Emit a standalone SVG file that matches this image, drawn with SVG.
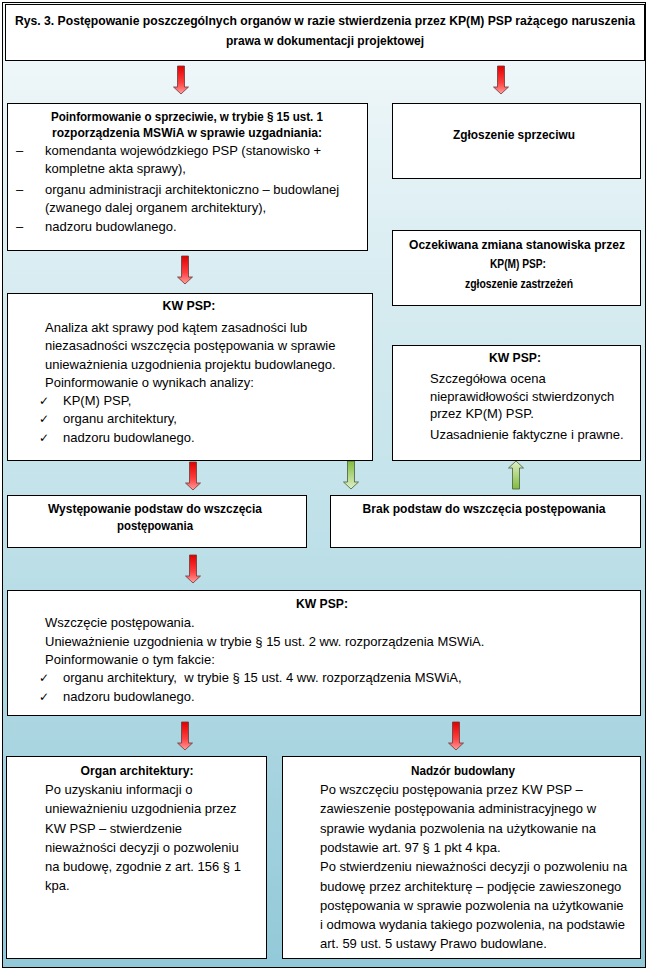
<svg xmlns="http://www.w3.org/2000/svg" width="651" height="977" viewBox="0 0 651 977">
<defs>
<linearGradient id="bg" x1="0" y1="0" x2="0" y2="1">
<stop offset="0" stop-color="#f4f9fb"/>
<stop offset="0.5" stop-color="#c4e3ea"/>
<stop offset="1" stop-color="#92c9d8"/>
</linearGradient>
<linearGradient id="gRed" x1="0" y1="0" x2="0" y2="1">
<stop offset="0" stop-color="#e00000"/>
<stop offset="0.6" stop-color="#ff4040"/>
<stop offset="1" stop-color="#ffa0a0"/>
</linearGradient>
<linearGradient id="gGreen" x1="0" y1="0" x2="0" y2="1">
<stop offset="0" stop-color="#80bc3c"/>
<stop offset="1" stop-color="#dff0c8"/>
</linearGradient>
<path id="arrR" d="M-3.5,0 H3.5 V21 H7.5 L0,28 L-7.5,21 H-3.5 Z" fill="url(#gRed)" stroke="#6a3a3a" stroke-width="0.8"/>
<path id="arrG" d="M-3.5,0 H3.5 V21 H7.5 L0,28 L-7.5,21 H-3.5 Z" fill="url(#gGreen)" stroke="#4a5a3a" stroke-width="0.8"/>
</defs>
<style>
.box{fill:#fff;stroke:#000;stroke-width:1}
.h{font-family:"Liberation Sans",Arial,sans-serif;font-weight:bold;font-size:13px;fill:#000;text-anchor:middle}
.ti{font-size:12.2px}
.t{font-family:"Liberation Sans",Arial,sans-serif;font-size:13px;fill:#000}
.ck{font-family:"DejaVu Sans",sans-serif;font-size:12px;fill:#000}
</style>
<rect x="2.5" y="2.5" width="643" height="965" fill="url(#bg)" stroke="#000" stroke-width="1"/>

<g id="title">
<rect class="box" x="5.5" y="4.5" width="639" height="56"/>
<text class="h ti" x="325" y="25" textLength="620" lengthAdjust="spacingAndGlyphs">Rys. 3. Postępowanie poszczególnych organów w razie stwierdzenia przez KP(M) PSP rażącego naruszenia</text>
<text class="h ti" x="325" y="45" textLength="198" lengthAdjust="spacingAndGlyphs">prawa w dokumentacji projektowej</text>
</g>

<g id="connectors">
<use href="#arrR" x="181" y="66"/>
<use href="#arrR" x="501" y="66"/>
<use href="#arrR" x="185" y="256"/>
<use href="#arrR" x="193" y="462"/>
<use href="#arrG" x="351" y="461"/>
<use href="#arrG" transform="translate(516,489) rotate(180)"/>
<use href="#arrR" x="193" y="555"/>
<use href="#arrR" x="185" y="722"/>
<use href="#arrR" x="456" y="722"/>
</g>

<g id="n-poinformowanie">
<rect class="box" x="7.5" y="103.5" width="360" height="147"/>
<text class="h" x="187" y="121" textLength="272" lengthAdjust="spacingAndGlyphs">Poinformowanie o sprzeciwie, w trybie § 15 ust. 1</text>
<text class="h" x="187" y="137" textLength="270" lengthAdjust="spacingAndGlyphs">rozporządzenia MSWiA w sprawie uzgadniania:</text>
<text class="t" x="16" y="155">–</text>
<text class="t" x="45" y="155">komendanta wojewódzkiego PSP (stanowisko +</text>
<text class="t" x="45" y="173">kompletne akta sprawy),</text>
<text class="t" x="16" y="194">–</text>
<text class="t" x="45" y="194">organu administracji architektoniczno – budowlanej</text>
<text class="t" x="45" y="212">(zwanego dalej organem architektury),</text>
<text class="t" x="16" y="231">–</text>
<text class="t" x="45" y="231">nadzoru budowlanego.</text>
</g>

<g id="n-zgloszenie">
<rect class="box" x="392.5" y="103.5" width="248" height="75"/>
<text class="h" x="514" y="139" textLength="122" lengthAdjust="spacingAndGlyphs">Zgłoszenie sprzeciwu</text>
</g>

<g id="n-oczekiwana">
<rect class="box" x="392.5" y="230.5" width="248" height="75"/>
<text class="h" x="517" y="249" textLength="216" lengthAdjust="spacingAndGlyphs">Oczekiwana zmiana stanowiska przez</text>
<text class="h" x="518" y="268" textLength="56" lengthAdjust="spacingAndGlyphs">KP(M) PSP:</text>
<text class="h" x="519" y="288" textLength="108" lengthAdjust="spacingAndGlyphs">zgłoszenie zastrzeżeń</text>
</g>

<g id="n-kw-analiza">
<rect class="box" x="7.5" y="293.5" width="365" height="167"/>
<text class="h" x="189" y="310" textLength="53" lengthAdjust="spacingAndGlyphs">KW PSP:</text>
<text class="t" x="45" y="332">Analiza akt sprawy pod kątem zasadności lub</text>
<text class="t" x="45" y="350">niezasadności wszczęcia postępowania w sprawie</text>
<text class="t" x="45" y="369">unieważnienia uzgodnienia projektu budowlanego.</text>
<text class="t" x="45" y="387">Poinformowanie o wynikach analizy:</text>
<text class="ck" x="39" y="405">✓</text>
<text class="t" x="63" y="405">KP(M) PSP,</text>
<text class="ck" x="39" y="423">✓</text>
<text class="t" x="63" y="423">organu architektury,</text>
<text class="ck" x="39" y="442">✓</text>
<text class="t" x="63" y="442">nadzoru budowlanego.</text>
</g>

<g id="n-kw-ocena">
<rect class="box" x="392.5" y="345.5" width="248" height="115"/>
<text class="h" x="515" y="362" textLength="52" lengthAdjust="spacingAndGlyphs">KW PSP:</text>
<text class="t" x="430" y="383">Szczegółowa ocena</text>
<text class="t" x="430" y="401">nieprawidłowości stwierdzonych</text>
<text class="t" x="430" y="418">przez KP(M) PSP.</text>
<text class="t" x="430" y="439">Uzasadnienie faktyczne i prawne.</text>
</g>

<g id="n-wystepowanie">
<rect class="box" x="7.5" y="495.5" width="299" height="52"/>
<text class="h" x="155" y="513" textLength="214" lengthAdjust="spacingAndGlyphs">Występowanie podstaw do wszczęcia</text>
<text class="h" x="155" y="530" textLength="76" lengthAdjust="spacingAndGlyphs">postępowania</text>
</g>

<g id="n-brak">
<rect class="box" x="330.5" y="495.5" width="310" height="52"/>
<text class="h" x="484" y="513" textLength="243" lengthAdjust="spacingAndGlyphs">Brak podstaw do wszczęcia postępowania</text>
</g>

<g id="n-kw-wszczecie">
<rect class="box" x="7.5" y="590.5" width="633" height="125"/>
<text class="h" x="322" y="608" textLength="52" lengthAdjust="spacingAndGlyphs">KW PSP:</text>
<text class="t" x="45" y="627">Wszczęcie postępowania.</text>
<text class="t" x="45" y="646">Unieważnienie uzgodnienia w trybie § 15 ust. 2 ww. rozporządzenia MSWiA.</text>
<text class="t" x="45" y="664">Poinformowanie o tym fakcie:</text>
<text class="ck" x="39" y="682">✓</text>
<text class="t" x="63" y="682" xml:space="preserve">organu architektury,  w trybie § 15 ust. 4 ww. rozporządzenia MSWiA,</text>
<text class="ck" x="39" y="701">✓</text>
<text class="t" x="63" y="701">nadzoru budowlanego.</text>
</g>

<g id="n-organ">
<rect class="box" x="6.5" y="756.5" width="260" height="202"/>
<text class="h" x="137" y="775" textLength="113" lengthAdjust="spacingAndGlyphs">Organ architektury:</text>
<text class="t" x="45" y="794">Po uzyskaniu informacji o</text>
<text class="t" x="45" y="813">unieważnieniu uzgodnienia przez</text>
<text class="t" x="45" y="833">KW PSP – stwierdzenie</text>
<text class="t" x="45" y="852">nieważności decyzji o pozwoleniu</text>
<text class="t" x="45" y="871">na budowę, zgodnie z art. 156 § 1</text>
<text class="t" x="45" y="890">kpa.</text>
</g>

<g id="n-nadzor">
<rect class="box" x="282.5" y="756.5" width="358" height="202"/>
<text class="h" x="463" y="775" textLength="104" lengthAdjust="spacingAndGlyphs">Nadzór budowlany</text>
<text class="t" x="320" y="794">Po wszczęciu postępowania przez KW PSP –</text>
<text class="t" x="320" y="813">zawieszenie postępowania administracyjnego w</text>
<text class="t" x="320" y="833">sprawie wydania pozwolenia na użytkowanie na</text>
<text class="t" x="320" y="852">podstawie art. 97 § 1 pkt 4 kpa.</text>
<text class="t" x="320" y="871">Po stwierdzeniu nieważności decyzji o pozwoleniu na</text>
<text class="t" x="320" y="891">budowę przez architekturę – podjęcie zawieszonego</text>
<text class="t" x="320" y="910">postępowania w sprawie pozwolenia na użytkowanie</text>
<text class="t" x="320" y="929">i odmowa wydania takiego pozwolenia, na podstawie</text>
<text class="t" x="320" y="948">art. 59 ust. 5 ustawy Prawo budowlane.</text>
</g>
</svg>
